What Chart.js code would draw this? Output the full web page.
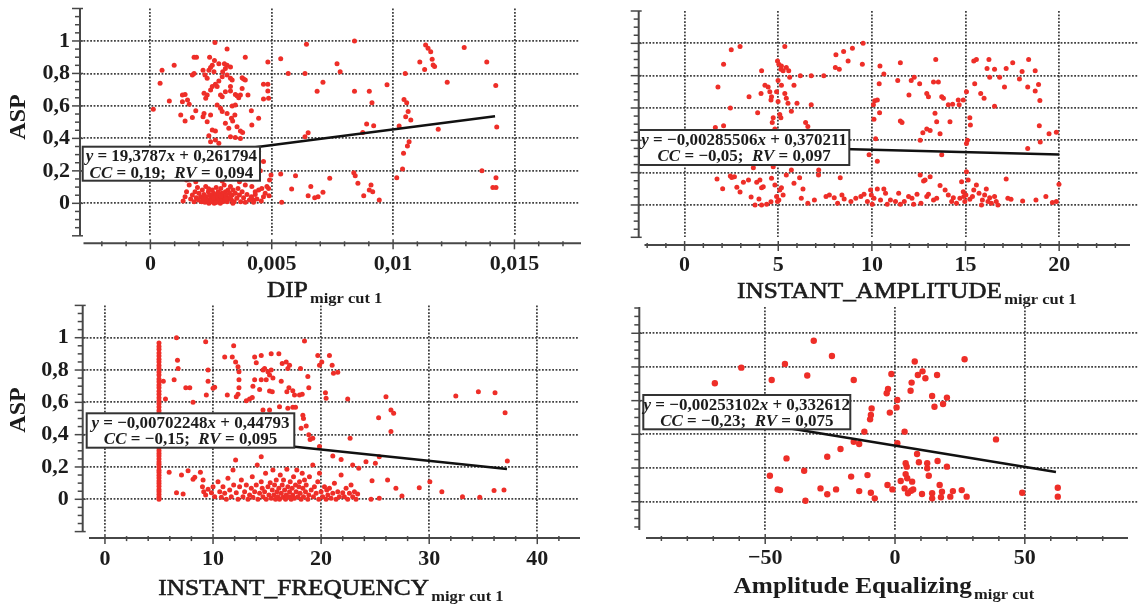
<!DOCTYPE html>
<html>
<head>
<meta charset="utf-8">
<script src="https://cdn.jsdelivr.net/npm/chart.js@4.4.1/dist/chart.umd.min.js"></script>
<style>
  html, body { margin: 0; padding: 0; background: #fff; }
  #wrap { position: relative; width: 1142px; height: 606px; overflow: hidden; background: #fff; }
  #wrap canvas { position: absolute; }
</style>
</head>
<body>
<div id="wrap"></div>
<script>
// ---- data ----
const yTicks = [0, 0.2, 0.4, 0.6, 0.8, 1];
const yTickLabels = ["0", "0,2", "0,4", "0,6", "0,8", "1"];

const dipTicks = [0, 0.005, 0.01, 0.015];
const dipTickLabels = ["0", "0,005", "0,01", "0,015"];
const ampTicks = [0, 5, 10, 15, 20];
const ampTickLabels = ["0", "5", "10", "15", "20"];
const freqTicks = [0, 10, 20, 30, 40];
const freqTickLabels = ["0", "10", "20", "30", "40"];
const eqTicks = [-50, 0, 50];
const eqTickLabels = ["\u221250", "0", "50"];

// regression lines (end points)
const dipLine = [[0.0001, 0.264], [0.0142, 0.537]];
const ampLine = [[1.6, 0.366], [20, 0.313]];
const freqLine = [[5, 0.413], [37.2, 0.187]];
const eqLine = [[-69, 0.507], [62, 0.176]];

// equation boxes: [text, italic]
const dipEq = [[["y", 1], [" = 19,3787", 0], ["x", 1], [" + 0,261794", 0]],
               [["CC", 1], [" = 0,19;  ", 0], ["RV", 1], [" = 0,094", 0]]];
const ampEq = [[["y", 1], [" = \u22120,00285506", 0], ["x", 1], [" + 0,370211", 0]],
               [["CC", 1], [" = \u22120,05;  ", 0], ["RV", 1], [" = 0,097", 0]]];
const freqEq = [[["y", 1], [" = \u22120,00702248", 0], ["x", 1], [" + 0,44793", 0]],
                [["CC", 1], [" = \u22120,15;  ", 0], ["RV", 1], [" = 0,095", 0]]];
const eqEq = [[["y", 1], [" = \u22120,00253102", 0], ["x", 1], [" + 0,332612", 0]],
              [["CC", 1], [" = \u22120,23;  ", 0], ["RV", 1], [" = 0,075", 0]]];

const dipPoints = [
  [0.00266,0.99],[0.00316,0.95],[0.0018,0.90],[0.0019,0.90],[0.00244,0.90],[0.00264,0.88],[0.00282,0.86],[0.00305,0.86],
  [0.0033,0.84],[0.00391,0.90],[0.00484,0.87],[0.00537,0.89],[0.00643,0.98],[0.00841,1.0],[0.00769,0.86],[0.00782,0.81],
  [0.00568,0.80],[0.00637,0.80],[0.00711,0.745],[0.00687,0.69],[0.00841,0.69],[0.00902,0.69],[0.00913,0.62],[0.00975,0.73],
  [0.0105,0.80],[0.0111,0.87],[0.0113,0.825],[0.01134,0.975],[0.01144,0.955],[0.01155,0.934],[0.01161,0.887],[0.01165,0.852],
  [0.01171,0.842],[0.01223,0.745],[0.01293,0.96],[0.01386,0.87],[0.01423,0.725],[0.01427,0.47],[0.01186,0.456],[0.01366,0.20],
  [0.01424,0.158],[0.01411,0.097],[0.01424,0.097],[0.01045,0.64],[0.01056,0.62],[0.01062,0.565],[0.01052,0.534],[0.01073,0.513],
  [0.01025,0.476],[0.01066,0.38],[0.01059,0.353],[0.01043,0.308],[0.01039,0.211],[0.01015,0.158],[0.00891,0.489],[0.0092,0.478],
  [0.00875,0.437],[0.0065,0.435],[0.00637,0.41],[0.00838,0.189],[0.00844,0.17],[0.00855,0.123],[0.00909,0.113],[0.00902,0.082],
  [0.00916,0.072],[0.00879,0.047],[0.00943,0.02],[0.00739,0.154],[0.00661,0.103],[0.0065,0.047],[0.00677,0.035],[0.00691,0.041],
  [0.00711,0.068],[0.00598,0.17],[0.00582,0.088],[0.00537,0.181],[0.00541,0.006],[0.00497,0.175],[0.00491,0.144],[0.00487,0.092],
  [0.00489,0.047],[0.00466,0.257],[0.00446,0.318],[0.00453,0.2],[0.00459,0.092],[0.00432,0.072],[0.00425,0.02],[0.00416,0.035],
  [0.00012,0.58],[0.0004,0.74],[0.00048,0.82],[0.00098,0.85],[0.00078,0.63],[0.00132,0.667],[0.00143,0.67],[0.00153,0.637],
  [0.00132,0.626],[0.0016,0.61],[0.00125,0.544],[0.00143,0.507],[0.00173,0.79],[0.0018,0.80],[0.00187,0.57],[0.00173,0.528],
  [0.00217,0.82],[0.00225,0.79],[0.00234,0.77],[0.00241,0.82],[0.00248,0.836],[0.00255,0.85],[0.00262,0.81],[0.00221,0.678],
  [0.00234,0.667],[0.00228,0.647],[0.00248,0.698],[0.00255,0.72],[0.00268,0.733],[0.00275,0.72],[0.00282,0.754],[0.00296,0.78],
  [0.00298,0.81],[0.00309,0.83],[0.00316,0.85],[0.00221,0.554],[0.00217,0.534],[0.00234,0.503],[0.00248,0.544],[0.00289,0.667],
  [0.00296,0.657],[0.00309,0.688],[0.0033,0.72],[0.0033,0.692],[0.0035,0.671],[0.00357,0.663],[0.00371,0.667],[0.00364,0.65],
  [0.00275,0.606],[0.00289,0.585],[0.00296,0.565],[0.00309,0.493],[0.00316,0.554],[0.00334,0.524],[0.00339,0.507],[0.00268,0.446],
  [0.00255,0.452],[0.00241,0.417],[0.00248,0.38],[0.00268,0.39],[0.00282,0.37],[0.00323,0.462],[0.00357,0.472],[0.00371,0.446],
  [0.0038,0.437],[0.00316,0.79],[0.0033,0.77],[0.00337,0.76],[0.00378,0.774],[0.00384,0.766],[0.00391,0.76],[0.00378,0.708],
  [0.00402,0.667],[0.00337,0.60],[0.0035,0.606],[0.00348,0.544],[0.00416,0.57],[0.00418,0.483],[0.00446,0.524],[0.00466,0.733],
  [0.00484,0.733],[0.00466,0.643],[0.00484,0.692],[0.00487,0.647],[0.0033,0.41],[0.0035,0.405],[0.00371,0.40],
  [0.00135,0.014],[0.00143,0.041],[0.00149,0.072],[0.0016,0.113],[0.00166,0.027],[0.00173,0.051],[0.0018,0.01],[0.00184,0.072],
  [0.00189,0.035],[0.00194,0.097],[0.00198,0.021],[0.002,0.062],[0.00207,0.041],[0.00211,0.01],[0.00214,0.082],[0.00217,0.027],
  [0.00221,0.055],[0.00225,0.006],[0.00228,0.103],[0.0023,0.041],[0.00234,0.021],[0.00239,0.072],[0.00241,0],[0.00244,0.051],
  [0.00248,0.031],[0.00252,0.01],[0.00255,0.082],[0.00258,0.041],[0.0026,0.062],[0.00263,0],[0.00266,0.021],[0.00268,0.051],
  [0.00271,0.097],[0.00274,0.01],[0.00277,0.035],[0.00279,0.072],[0.00282,0.021],[0.00285,0.051],[0.00288,0],[0.0029,0.092],
  [0.00293,0.031],[0.00296,0.062],[0.00298,0.01],[0.00301,0.041],[0.00304,0.113],[0.00307,0.021],[0.00309,0.072],[0.00312,0.047],
  [0.00316,0.01],[0.0032,0.082],[0.00323,0.031],[0.00326,0.062],[0.0033,0.103],[0.00334,0.021],[0.00337,0.051],[0.00341,0.082],
  [0.00345,0.01],[0.0035,0.062],[0.00356,0.031],[0.00361,0.092],[0.00367,0.051],[0.00372,0.01],[0.00378,0.072],[0.00384,0.035],
  [0.00391,0.006],[0.00398,0.055],[0.00408,0.021],[0.00416,0.041],[0.00425,0.006],[0.00432,0.055],[0.00439,0.027],[0.00446,0.082],
  [0.00457,0.014],[0.00466,0.041],[0.00473,0.062],[0.0048,0.103],[0.00149,0.144],[0.00166,0.164],[0.00187,0.133],[0.00255,0.154],
  [0.00275,0.185],[0.00296,0.138],[0.00316,0.154],[0.00345,0.17],[0.00367,0.133],[0.00391,0.113],[0.00418,0.103],
  [0.0025,0.015],[0.0027,0.005],[0.0028,0.065],[0.0031,0.025],[0.0029,0.045],[0.0026,0.035],[0.0024,0.09],[0.0033,0.04],
  [0.0022,0.03],[0.0034,0.0]
];

const ampPoints = [
  [2.49,0.96],[2.96,0.98],[2.08,0.87],[1.78,0.73],[4.11,0.83],[3.44,0.67],[4.08,0.69],[2.44,0.60],[1.64,0.48],[2.08,0.49],
  [4.29,0.74],[4.46,0.73],[4.55,0.70],[4.64,0.67],[4.61,0.65],[3.9,0.57],[4.73,0.54],[4.68,0.51],[4.82,0.47],
  [4.96,0.89],[5.03,0.87],[5.17,0.86],[5.14,0.84],[5.26,0.83],[4.99,0.77],[5.17,0.74],[4.91,0.70],[4.99,0.64],[5.08,0.56],[5.14,0.54],
  [5.35,0.98],[5.43,0.85],[5.56,0.83],[5.61,0.79],[5.84,0.74],[5.35,0.69],[5.43,0.66],[5.52,0.63],[5.7,0.58],[6.0,0.63],
  [6.18,0.80],[6.76,0.80],[7.43,0.80],[6.76,0.62],[6.46,0.51],[6.58,0.485],
  [8.08,0.93],[8.49,0.95],[8.96,0.97],[9.53,1.0],[8.73,0.89],[8.05,0.85],[8.26,0.84],[9.49,0.87],
  [10.43,0.86],[10.64,0.81],[11.52,0.88],[10.39,0.75],[10.29,0.65],[10.15,0.645],[10.08,0.62],[10.41,0.57],[10.11,0.53],[10.2,0.41],
  [11.38,0.77],[11.52,0.52],[11.61,0.51],[11.98,0.68],[12.1,0.77],[12.26,0.79],[12.55,0.75],[12.93,0.69],[13.02,0.67],[13.29,0.76],
  [13.55,0.76],[13.41,0.90],[13.73,0.67],[13.82,0.66],[13.46,0.515],[13.64,0.44],[13.37,0.567],[13.73,0.31],[12.72,0.447],[12.93,0.47],
  [12.58,0.40],[13.11,0.46],[14.08,0.62],[14.17,0.515],[14.31,0.623],[14.61,0.65],[14.66,0.62],[14.88,0.65],[15.05,0.70],[15.23,0.54],
  [15.26,0.495],[15.1,0.40],[15.05,0.38],[15.44,0.89],[15.58,0.90],[15.49,0.75],[15.81,0.69],[15.99,0.66],[16.25,0.90],[16.15,0.845],
  [16.55,0.84],[16.29,0.79],[16.55,0.61],[16.82,0.79],[17.08,0.73],[17.17,0.845],[17.52,0.88],[17.88,0.78],[18.02,0.825],[18.37,0.90],
  [18.32,0.73],[18.72,0.83],[18.72,0.705],[18.9,0.746],[18.97,0.647],[18.94,0.49],[18.99,0.39],[19.46,0.44],[19.85,0.45],[18.32,0.35],
  [9.85,0.31],[10.29,0.27],[12.84,0.155],
  [1.73,0.16],[2.03,0.10],[2.44,0.18],[2.52,0.17],[2.66,0.175],[2.79,0.11],[2.96,0.08],[3.14,0.14],[3.41,0.155],[3.55,0.05],
  [3.67,0.23],[3.85,0.14],[3.97,0.037],[4.11,0.107],[4.02,0.155],[4.2,0.113],[3.76,0],[4.11,0],[4.38,0.004],[4.61,0.02],
  [4.64,0.165],[4.73,0.237],[4.82,0.124],[4.91,0.052],[4.96,0.021],[5.03,0.031],[5.08,0.093],[5.17,0.107],[5.26,0.062],[5.43,0.186],
  [5.7,0.216],[5.84,0.134],[6.23,0.041],[6.14,0.169],[6.32,0.099],[6.58,0.01],[6.93,0.031],[7.16,0.216],[7.15,0.186],[7.55,0.052],
  [7.73,0.062],[7.99,0.045],[8.17,0.01],[8.31,0.169],[8.4,0.062],[8.52,0.037],[8.88,0.021],[9.14,0.041],[9.41,0.052],[9.58,0.066],
  [9.76,0.021],[9.93,0.093],[9.97,0.062],[10.02,0.004],[10.11,0.041],[10.29,0.099],[10.46,0.031],[10.64,0.099],[10.73,0.072],[10.82,0.004],
  [10.99,0.031],[11.26,0.021],[11.43,0.072],[11.52,0.004],[11.73,0.021],[11.96,0.052],[12.14,0.041],[12.23,0.004],[12.41,0.066],[12.58,0.186],
  [12.62,0.01],[12.76,0.148],[12.93,0.052],[13.02,0.066],[13.11,0.175],[13.29,0.031],[13.46,0.041],[13.64,0.12],[13.91,0.093],[14.08,0.062],
  [14.26,0.021],[14.35,0.045],[14.52,0.01],[14.7,0.041],[14.79,0.144],[14.88,0.082],[14.91,0.052],[14.96,0.021],[15.02,0.062],[15.05,0.206],
  [15.14,0.155],[15.23,0.035],[15.37,0.052],[15.44,0.093],[15.58,0.124],[15.72,0.072],[15.85,0],[15.9,0.031],[16.02,0.062],[16.11,0.099],
  [16.2,0.021],[16.29,0.045],[16.38,0.01],[16.55,0.052],[16.64,0.021],[16.73,0],[17.17,0.161],[17.26,0.041],[17.43,0.035],[18.05,0.025],
  [18.76,0.031],[19.29,0.052],[19.64,0.016],[19.85,0.021],[19.99,0.128]
];

const freqPoints = [
  [5,0.0],[5,0.012],[5,0.03],[5,0.047],[5,0.061],[5,0.08],[5,0.097],[5,0.113],[5,0.132],[5,0.148],[5,0.166],[5,0.18],
  [5,0.2],[5,0.217],[5,0.231],[5,0.25],[5,0.268],[5,0.283],[5,0.3],[5,0.318],[5,0.335],[5,0.357],[5,0.376],[5,0.4],
  [5,0.421],[5,0.438],[5,0.46],[5,0.482],[5,0.5],[5,0.517],[5,0.534],[5,0.55],[5,0.571],[5,0.592],[5,0.61],[5,0.628],
  [5,0.65],[5,0.668],[5,0.69],[5,0.707],[5,0.728],[5,0.745],[5,0.77],[5,0.788],[5,0.81],[5,0.828],[5,0.85],[5,0.866],
  [5,0.887],[5,0.905],[5,0.928],[5,0.946],[5,0.967],[5.4,0.73],[5.6,0.62],
  [6.62,1.0],[9.32,0.975],[11.91,0.95],[18.46,0.98],[11.08,0.88],[11.78,0.88],[12.09,0.85],[12.31,0.82],[12.4,0.79],[12.4,0.74],
  [12.4,0.69],[12.31,0.65],[6.71,0.86],[6.77,0.81],[6.4,0.74],[7.48,0.69],[7.85,0.69],[8.15,0.60],[9.54,0.80],[9.54,0.73],
  [9.38,0.645],[10.0,0.687],[10.15,0.693],[11.32,0.645],[12.15,0.635],[13.08,0.61],[13.38,0.62],[13.63,0.63],[13.85,0.88],[14.0,0.845],
  [14.46,0.89],[14.62,0.80],[14.77,0.81],[15.08,0.79],[15.23,0.77],[15.38,0.80],[15.54,0.75],[14.92,0.74],[14.46,0.74],[13.85,0.74],
  [13.69,0.70],[14.31,0.68],[15.23,0.67],[15.48,0.666],[15.38,0.90],[16.09,0.90],[16.4,0.84],[16.77,0.85],[17.08,0.83],[16.92,0.81],
  [16.31,0.73],[17.02,0.69],[16.83,0.666],[17.38,0.672],[17.54,0.645],[18.0,0.645],[18.25,0.65],[14.62,0.553],[15.23,0.553],[16.15,0.573],
  [16.92,0.563],[17.38,0.57],[17.63,0.57],[18.09,0.81],[18.77,0.76],[18.86,0.69],[19.69,0.89],[19.85,0.83],[20.06,0.85],[20.77,0.89],
  [21.02,0.83],[21.14,0.78],[21.54,0.786],[20.4,0.66],[20.46,0.625],[22.46,0.62],[18.31,0.52],[18.37,0.50],[18.15,0.44],[18.62,0.454],
  [18.86,0.40],[18.98,0.37],[19.23,0.377],[19.85,0.326],[21.08,0.268],[21.85,0.247],[22.68,0.377],[22.92,0.212],[23.48,0.192],[24.15,0.233],
  [25.02,0.223],[24.71,0.115],[25.38,0.264],[26.0,0.635],[25.32,0.505],[26.46,0.553],[26.71,0.532],[26.46,0.419],[26.15,0.12],[26.92,0.068],
  [27.48,0.021],[29.08,0.072],[30.06,0.109],[31.17,0.047],[32.46,0.639],[33.08,0.016],[34.55,0.666],[34.68,0.012],[36.09,0.66],[36.0,0.054],
  [36.92,0.058],[37.02,0.536],[37.23,0.237],
  [5.94,0.167],[6.62,0.041],[7.23,0.033],[7.08,0.151],[7.69,0.177],[8.15,0.124],[8.31,0.136],[8.83,0.167],[9.08,0.12],[9.02,0.078],
  [9.14,0.047],[9.32,0.027],[9.54,0.062],[9.85,0.041],[10.0,0.078],[10.15,0.016],[10.46,0.109],[10.62,0.047],[10.77,0.012],[10.92,0.078],
  [11.08,0.037],[11.23,0],[11.38,0.13],[11.54,0.058],[11.69,0.016],[11.85,0.181],[11.91,0.089],[12.09,0.243],[12.15,0.041],[12.31,0],
  [12.46,0.078],[12.62,0.12],[12.77,0.016],[12.92,0.047],[13.08,0.089],[13.23,0],[13.38,0.027],[13.54,0.068],[13.63,0.14],[13.69,0.012],
  [13.85,0.047],[14.0,0.089],[14.09,0.212],[14.15,0],[14.31,0.037],[14.46,0.109],[14.46,0.264],[14.55,0.068],[14.62,0.016],[14.77,0.047],
  [14.86,0.161],[14.92,0],[15.08,0.078],[15.17,0.027],[15.29,0.103],[15.38,0.006],[15.48,0.058],[15.54,0.181],[15.63,0.027],[15.69,0.089],
  [15.78,0],[15.85,0.12],[15.91,0.047],[16.0,0.016],[16.09,0.068],[16.15,0],[16.22,0.151],[16.31,0.037],[16.4,0.089],[16.46,0.012],
  [16.52,0.12],[16.62,0.058],[16.71,0],[16.77,0.027],[16.83,0.186],[16.92,0.078],[17.02,0.016],[17.08,0.047],[17.14,0.109],[17.23,0],
  [17.32,0.068],[17.38,0.027],[17.45,0.14],[17.54,0.006],[17.63,0.089],[17.69,0.047],[17.75,0.181],[17.85,0.016],[17.94,0.078],[18.0,0.109],
  [18.06,0.037],[18.15,0],[18.25,0.161],[18.31,0.068],[18.37,0.016],[18.46,0.12],[18.55,0.047],[18.62,0.089],[18.77,0],[18.86,0.027],
  [18.92,0.14],[19.08,0.058],[19.23,0.212],[19.29,0.016],[19.38,0.078],[19.54,0.037],[19.69,0.109],[19.78,0],[19.85,0.161],[20.0,0.047],
  [20.15,0.016],[20.31,0.078],[20.46,0],[20.52,0.058],[20.62,0.027],[20.77,0.068],[20.92,0.006],[21.08,0.037],[21.23,0.099],[21.38,0],
  [21.54,0.047],[21.69,0.016],[21.85,0.151],[22.0,0.041],[22.15,0.016],[22.31,0.068],[22.46,0],[22.62,0.037],[22.77,0.089],[22.92,0.016],
  [23.08,0.047],[23.23,0],[23.38,0.033],[24.62,0],[25.38,0.006]
];

const eqPoints = [
  [-69.4,0.703],[-59.2,0.796],[-47.5,0.723],[-42.4,0.818],[-33.8,0.749],[-31.3,0.956],[-24.3,0.865],[-15.9,0.723],[-48.2,0.154],
  [-45.2,0.073],[-44.3,0.069],[-41.8,0.257],[-35.0,0.184],[-34.5,0.006],[-28.7,0.079],[-26.1,0.267],[-26.1,0.044],[-22.7,0.073],
  [-21.0,0.313],[-16.9,0.149],[-15.9,0.356],[-13.8,0.343],[-13.8,0.063],[-11.8,0.416],[-10.6,0.158],[-9.3,0.053],[-9.0,0.554],
  [-9.3,0.515],[-9.6,0.489],[-7.8,0.02],[-3.2,0.644],[-2.7,0.669],[-2.9,0.099],[-2.0,0.529],[-1.4,0.758],[-1.0,0.073],[0.6,0.56],
  [0.9,0.604],[0.9,0.347],[2.2,0.123],[3.7,0.416],[3.7,0.079],[4.1,0.228],[4.5,0.208],[4.1,0.164],[4.7,0.139],[5.0,0.05],[6.6,0.119],
  [7.0,0.073],[6.2,0.065],[6.0,0.659],[6.4,0.707],[7.6,0.832],[8.5,0.283],[8.8,0.752],[9.2,0.234],[10.6,0.774],[10.4,0.046],[11.7,0.733],
  [12.4,0.228],[12.4,0.198],[13.0,0.154],[14.3,0.628],[15.2,0.564],[14.3,0.05],[14.3,0.02],[16.2,0.752],[16.4,0.242],[17.2,0.099],
  [18.1,0.059],[17.7,0.026],[18.5,0.58],[20.0,0.618],[20.0,0.208],[21.3,0.03],[22.3,0.063],[25.7,0.069],[26.8,0.846],[27.6,0.03],
  [38.9,0.37],[49.0,0.053],[62.7,0.083],[62.7,0.03]
];

// ---- drawing ----
const RED = "rgb(238,46,40)";
const GRID = "rgba(45,45,45,0.9)";
const INK = "#1c1c1c";
const AXIS = "#474747";
const SERIF = '"Liberation Serif", "Times New Roman", serif';

const panels = [
  { left: 0, top: 0, w: 583, h: 310, plotLeft: 80, plotTop: 8.5, plotBottom: 235.8, padRight: 0,
    xMin: -0.0029, xMax: 0.01766, yMin: -0.2, yMax: 1.2,
    xTicks: dipTicks, xLabels: dipTickLabels, xMinor: 0.001, xMajor: 0.005,
    showY: true, yPad: 10, axisGap: 7.5, axisStart: 3.5, axisEnd: 581,
    title: "DIP", sub: "migr cut 1", titleBold: false, titleX: 267, titleY: 297, aspY: 117,
    box: { x: 82.7, y: 146.7, w: 177.3, h: 34 }, eq: dipEq,
    points: dipPoints, line: dipLine, radius: 2.5 },
  { left: 583, top: 0, w: 559, h: 310, plotLeft: 55.7, plotTop: 11, plotBottom: 237.3, padRight: 0,
    xMin: -2.452, xMax: 24.21, yMin: -0.2, yMax: 1.2,
    xTicks: ampTicks, xLabels: ampTickLabels, xMinor: 1, xMajor: 5,
    showY: false, yPad: 10, axisGap: 7.7, axisStart: 5.8, axisEnd: 547,
    title: "INSTANT_AMPLITUDE", sub: "migr cut 1", titleBold: false, titleX: 154, titleY: 297.5, aspY: null,
    box: { x: 56, y: 130, w: 210.3, h: 35 }, eq: ampEq,
    points: ampPoints, line: ampLine, radius: 2.5 },
  { left: 0, top: 300, w: 583, h: 306, plotLeft: 82.7, plotTop: 5.4, plotBottom: 231.6, padRight: 3,
    xMin: -2.059, xMax: 43.86, yMin: -0.2, yMax: 1.2,
    xTicks: freqTicks, xLabels: freqTickLabels, xMinor: 2, xMajor: 10,
    showY: true, yPad: 14, axisGap: 6.5, axisStart: 6.3, axisEnd: 580,
    title: "INSTANT_FREQUENCY", sub: "migr cut 1", titleBold: false, titleX: 158.3, titleY: 295, aspY: 110,
    box: { x: 86.7, y: 113.3, w: 207.6, h: 34.4 }, eq: freqEq,
    points: freqPoints, line: freqLine, radius: 2.5 },
  { left: 583, top: 300, w: 559, h: 306, plotLeft: 56.3, plotTop: 7, plotBottom: 230, padRight: 0,
    xMin: -98.5, xMax: 93.6, yMin: -0.168, yMax: 1.156,
    xTicks: eqTicks, xLabels: eqTickLabels, xMinor: 10, xMajor: 50,
    showY: false, yPad: 10, axisGap: 8, axisStart: 6.7, axisEnd: 545,
    title: "Amplitude Equalizing", sub: "migr cut", titleBold: true, titleX: 150.6, titleY: 293.3, aspY: null,
    box: { x: 60.3, y: 95, w: 207, h: 34.3 }, eq: eqEq,
    points: eqPoints, line: eqLine, radius: 3.2 }
];

function seg(ctx, x0, y0, x1, y1) {
  ctx.beginPath();
  ctx.moveTo(x0, y0);
  ctx.lineTo(x1, y1);
  ctx.stroke();
}

// walks minor tick values between a and b, flags the major ones
function eachStep(a, b, step, major, fn) {
  const k0 = Math.ceil(a / step - 1e-9), k1 = Math.floor(b / step + 1e-9);
  for (let k = k0; k <= k1; k++) {
    const v = k * step;
    const r = v / major;
    fn(v, Math.abs(r - Math.round(r)) < 1e-6);
  }
}

function richLine(ctx, segs, cx, y) {
  const fonts = segs.map(s => (s[1] ? "italic " : "") + "bold 17px " + SERIF);
  let total = 0;
  const widths = segs.map((s, i) => {
    ctx.font = fonts[i];
    const w = ctx.measureText(s[0]).width;
    total += w;
    return w;
  });
  let x = cx - total / 2;
  segs.forEach((s, i) => {
    ctx.font = fonts[i];
    ctx.fillText(s[0], x, y);
    x += widths[i];
  });
}

function decor(P) {
  return {
    id: "decor",
    afterDatasetsDraw(chart) {
      const ctx = chart.ctx, b = P.box;
      ctx.save();
      ctx.fillStyle = "#fff";
      ctx.fillRect(b.x, b.y, b.w, b.h);
      ctx.lineWidth = 2;
      ctx.strokeStyle = "#333";
      ctx.strokeRect(b.x, b.y, b.w, b.h);
      ctx.fillStyle = INK;
      ctx.textAlign = "left";
      ctx.textBaseline = "alphabetic";
      const cx = b.x + b.w / 2;
      richLine(ctx, P.eq[0], cx, b.y + 14.5);
      richLine(ctx, P.eq[1], cx, b.y + 31);
      ctx.restore();
    },
    afterDraw(chart) {
      const ctx = chart.ctx, ca = chart.chartArea;
      const xs = chart.scales.x, ys = chart.scales.y;
      ctx.save();
      ctx.strokeStyle = AXIS;
      // y axis with minor ticks every 0.05
      ctx.lineWidth = 2;
      seg(ctx, ca.left, ca.top, ca.left, ca.bottom);
      ctx.lineWidth = 1.5;
      eachStep(ys.min, ys.max, 0.05, 0.2, (v, major) => {
        const y = ys.getPixelForValue(v);
        seg(ctx, ca.left - (major ? 8 : 5), y, ca.left + (major ? 3 : 0), y);
      });
      // x axis, set a bit below the plot
      const ay = ca.bottom + P.axisGap, x0 = ca.left + P.axisStart, x1 = P.axisEnd;
      ctx.lineWidth = 2;
      seg(ctx, x0, ay, x1, ay);
      ctx.lineWidth = 1.5;
      eachStep(xs.getValueForPixel(x0), xs.getValueForPixel(x1), P.xMinor, P.xMajor, (v, major) => {
        const x = xs.getPixelForValue(v);
        seg(ctx, x, ay - (major ? 4 : 2), x, ay + (major ? 6 : 3));
      });
      // axis title with subscript, slightly widened like the scan
      ctx.fillStyle = INK;
      ctx.strokeStyle = INK;
      ctx.textAlign = "left";
      ctx.textBaseline = "alphabetic";
      ctx.save();
      ctx.translate(P.titleX, P.titleY);
      ctx.scale(1.1, 1);
      ctx.font = (P.titleBold ? "bold " : "") + "23px " + SERIF;
      ctx.fillText(P.title, 0, 0);
      if (!P.titleBold) {
        ctx.lineWidth = 0.6;
        ctx.strokeText(P.title, 0, 0);
      }
      const tw = ctx.measureText(P.title).width;
      ctx.font = "bold 15px " + SERIF;
      ctx.fillText(P.sub, tw + 2, 6);
      ctx.restore();
      if (P.aspY !== null) {
        ctx.save();
        ctx.translate(19, P.aspY);
        ctx.rotate(-Math.PI / 2);
        ctx.font = "bold 24px " + SERIF;
        ctx.textAlign = "center";
        ctx.textBaseline = "middle";
        ctx.fillText("ASP", 0, 0);
        ctx.restore();
      }
      ctx.restore();
    }
  };
}

const wrap = document.getElementById("wrap");
const tickFont = { family: SERIF, size: 22, weight: "bold" };

panels.forEach(P => {
  const canvas = document.createElement("canvas");
  canvas.width = P.w;
  canvas.height = P.h;
  canvas.style.left = P.left + "px";
  canvas.style.top = P.top + "px";
  wrap.appendChild(canvas);

  new Chart(canvas, {
    type: "scatter",
    data: {
      datasets: [
        {
          type: "line",
          data: P.line.map(p => ({ x: p[0], y: p[1] })),
          borderColor: "#111",
          borderWidth: 2.5,
          pointRadius: 0,
          fill: false,
          order: 0
        },
        {
          data: P.points.map(p => ({ x: p[0], y: p[1] })),
          pointRadius: P.radius,
          pointBorderWidth: 0,
          pointBackgroundColor: RED,
          backgroundColor: RED,
          order: 1
        }
      ]
    },
    options: {
      responsive: false,
      animation: false,
      events: [],
      layout: { padding: { top: P.plotTop, right: P.padRight, left: 0, bottom: 0 } },
      plugins: { legend: { display: false }, tooltip: { enabled: false } },
      scales: {
        x: {
          type: "linear",
          min: P.xMin,
          max: P.xMax,
          afterBuildTicks: s => { s.ticks = P.xTicks.map(v => ({ value: v })); },
          afterFit: s => { s.height = P.h - P.plotBottom; s.paddingLeft = 0; s.paddingRight = 0; },
          ticks: {
            autoSkip: false, maxRotation: 0, padding: 15, color: INK, font: tickFont,
            callback: (v, i) => P.xLabels[i]
          },
          grid: { color: GRID, lineWidth: 1.8, drawTicks: false },
          border: { display: false, dash: [1.8, 1.6] }
        },
        y: {
          type: "linear",
          min: P.yMin,
          max: P.yMax,
          afterBuildTicks: s => { s.ticks = yTicks.map(v => ({ value: v })); },
          afterFit: s => { s.width = P.plotLeft; s.paddingTop = 0; s.paddingBottom = 0; },
          ticks: {
            display: P.showY, autoSkip: false, padding: P.yPad, color: INK, font: tickFont,
            callback: (v, i) => yTickLabels[i]
          },
          grid: { color: GRID, lineWidth: 1.8, drawTicks: false },
          border: { display: false, dash: [1.8, 1.6] }
        }
      }
    },
    plugins: [decor(P)]
  });
});
</script>
</body>
</html>
